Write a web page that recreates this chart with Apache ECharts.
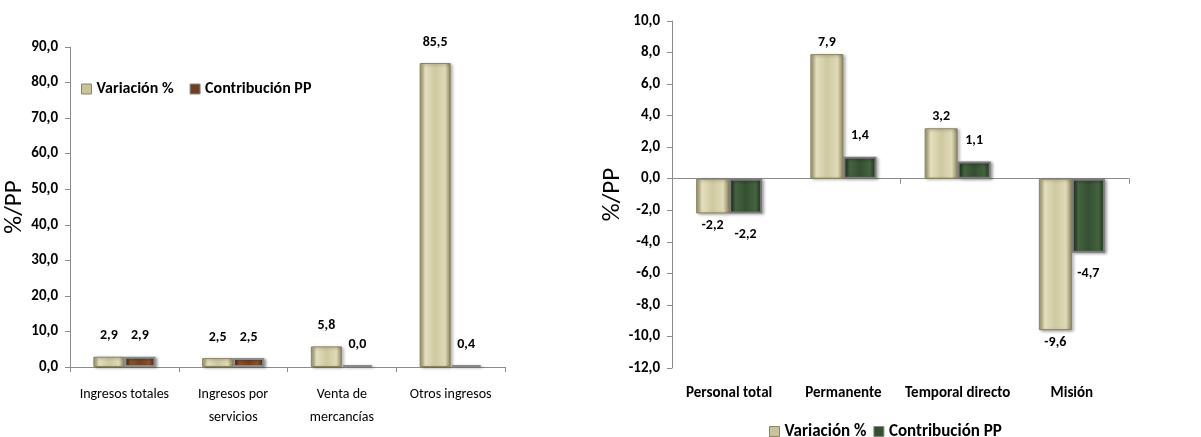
<!DOCTYPE html>
<html>
<head>
<meta charset="utf-8">
<script src="https://cdn.jsdelivr.net/npm/echarts@6/dist/echarts.min.js"></script>
<style>
  html, body { margin: 0; padding: 0; background: #fff; }
  #chart { width: 1201px; height: 437px; }
</style>
</head>
<body>
<div id="chart"></div>
<script>
// ingresos (panel izquierdo)
const ingresosCategories = ['Ingresos totales', 'Ingresos por\nservicios', 'Venta de\nmercancías', 'Otros ingresos']
const ingresosVariacion = [2.9, 2.5, 5.8, 85.5]
const ingresosContribucion = [2.9, 2.5, 0.0, 0.4]
const ingresosTicks = { min: 0, max: 90, interval: 10 }

// personal ocupado (panel derecho)
const personalCategories = ['Personal total', 'Permanente', 'Temporal directo', 'Misión']
const personalVariacion = [-2.2, 7.9, 3.2, -9.6]
const personalContribucion = [-2.2, 1.4, 1.1, -4.7]
const personalTicks = { min: -12, max: 10, interval: 2 }

const SERIES_NAMES = ['Variación %', 'Contribución PP']

const FONT = "Carlito, 'Liberation Sans', sans-serif"
const AXIS_COLOR = '#8c8c8c'

const hGrad = (stops) =>
  new echarts.graphic.LinearGradient(0, 0, 1, 0, stops.map(([o, c]) => ({ offset: o, color: c })))

const KHAKI = hGrad([[0, '#9c966b'], [0.18, '#e4dfbe'], [0.5, '#cfc9a0'], [0.82, '#dfdab8'], [1, '#88825a']])
const BROWN = hGrad([[0, '#4a2a14'], [0.2, '#8a5530'], [0.5, '#74441f'], [0.8, '#8a5530'], [1, '#40240f']])
const GREEN = hGrad([[0, '#1f3320'], [0.2, '#45633f'], [0.5, '#345031'], [0.8, '#45633f'], [1, '#1b2c19']])

const fmt = (v) => v.toFixed(1).replace('.', ',')

const shadow = { shadowBlur: 3, shadowOffsetX: 2, shadowOffsetY: 1, shadowColor: 'rgba(0,0,0,0.35)' }

function yAxis(gridIndex, ticks) {
  return {
    type: 'value',
    gridIndex,
    ...ticks,
    name: '%/PP',
    nameLocation: 'middle',
    nameGap: 43,
    nameTextStyle: { fontFamily: FONT, fontSize: 25, color: '#000' },
    axisLine: { show: true, lineStyle: { color: AXIS_COLOR } },
    axisTick: { show: true, length: 5, lineStyle: { color: AXIS_COLOR } },
    splitLine: { show: false },
    axisLabel: {
      margin: 12,
      formatter: fmt,
      fontFamily: FONT,
      fontWeight: 'bold',
      fontSize: 15,
      color: '#000',
    },
  }
}

function barLabel(distance) {
  return {
    show: true,
    distance,
    formatter: (p) => fmt(p.value),
    fontFamily: FONT,
    fontWeight: 'bold',
    fontSize: 14,
    color: '#000',
  }
}

// etiqueta arriba o abajo según el signo
const signed = (arr) => arr.map((v) => ({ value: v, label: { position: v < 0 ? 'bottom' : 'top' } }))

const option = {
  backgroundColor: '#fff',
  animation: false,
  grid: [
    { left: 70, top: 47, width: 435, height: 320 },
    { left: 672, top: 21, width: 457, height: 347 },
  ],
  legend: [
    {
      left: 76,
      top: 76,
      itemGap: 16,
      itemWidth: 10,
      itemHeight: 10,
      icon: 'rect',
      textStyle: { fontFamily: FONT, fontWeight: 'bold', fontSize: 16, color: '#000' },
      data: [
        { name: SERIES_NAMES[0], itemStyle: { color: '#c9c39b', borderColor: '#8a8460', borderWidth: 1 } },
        { name: SERIES_NAMES[1], itemStyle: { color: '#6e4020', borderColor: '#888', borderWidth: 1 } },
      ],
    },
    {
      left: 764,
      top: 418,
      itemGap: 7,
      itemWidth: 10,
      itemHeight: 10,
      icon: 'rect',
      textStyle: { fontFamily: FONT, fontWeight: 'bold', fontSize: 17, color: '#000' },
      data: [
        { name: SERIES_NAMES[0], itemStyle: { color: '#c9c39b', borderColor: '#8a8460', borderWidth: 1 } },
        { name: SERIES_NAMES[1], itemStyle: { color: '#345031', borderColor: '#888', borderWidth: 1 } },
      ],
    },
  ],
  xAxis: [
    {
      type: 'category',
      gridIndex: 0,
      data: ingresosCategories,
      axisLine: { lineStyle: { color: AXIS_COLOR } },
      axisTick: { show: true, length: 5, lineStyle: { color: AXIS_COLOR } },
      axisLabel: { interval: 0, margin: 16, fontFamily: FONT, fontSize: 14, lineHeight: 23, color: '#000' },
    },
    {
      // línea del cero
      type: 'category',
      gridIndex: 1,
      data: personalCategories,
      axisLine: { onZero: true, lineStyle: { color: AXIS_COLOR } },
      axisTick: { show: true, length: 5, lineStyle: { color: AXIS_COLOR } },
      axisLabel: { show: false },
    },
    {
      type: 'category',
      gridIndex: 1,
      position: 'bottom',
      data: personalCategories,
      axisLine: { show: false, onZero: false },
      axisTick: { show: false },
      axisLabel: { interval: 0, margin: 18, fontFamily: FONT, fontWeight: 'bold', fontSize: 15, color: '#000' },
    },
  ],
  yAxis: [yAxis(0, ingresosTicks), yAxis(1, personalTicks)],
  series: [
    {
      name: SERIES_NAMES[0],
      type: 'bar',
      xAxisIndex: 0,
      yAxisIndex: 0,
      barWidth: 31,
      barGap: '0%',
      data: ingresosVariacion,
      itemStyle: { color: KHAKI, borderColor: '#8a8460', borderWidth: 1, ...shadow },
      label: { ...barLabel(14), position: 'top' },
    },
    {
      name: SERIES_NAMES[1],
      type: 'bar',
      xAxisIndex: 0,
      yAxisIndex: 0,
      barWidth: 31,
      barGap: '0%',
      barMinHeight: 2,
      data: ingresosContribucion,
      itemStyle: { color: BROWN, borderColor: '#8a8a8a', borderWidth: 2, ...shadow },
      label: { ...barLabel(14), position: 'top' },
    },
    {
      name: SERIES_NAMES[0],
      type: 'bar',
      xAxisIndex: 1,
      yAxisIndex: 1,
      barWidth: 33,
      barGap: '0%',
      data: signed(personalVariacion),
      itemStyle: { color: KHAKI, borderColor: '#8a8460', borderWidth: 1, ...shadow },
      label: barLabel(5),
    },
    {
      name: SERIES_NAMES[1],
      type: 'bar',
      xAxisIndex: 1,
      yAxisIndex: 1,
      barWidth: 33,
      barGap: '0%',
      data: signed(personalContribucion),
      itemStyle: { color: GREEN, borderColor: '#7a7a7a', borderWidth: 2, ...shadow },
      label: barLabel(14),
    },
  ],
}

const chart = echarts.init(document.getElementById('chart'), null, { renderer: 'canvas' })
chart.setOption(option)
window.addEventListener('resize', () => chart.resize())
</script>
</body>
</html>
